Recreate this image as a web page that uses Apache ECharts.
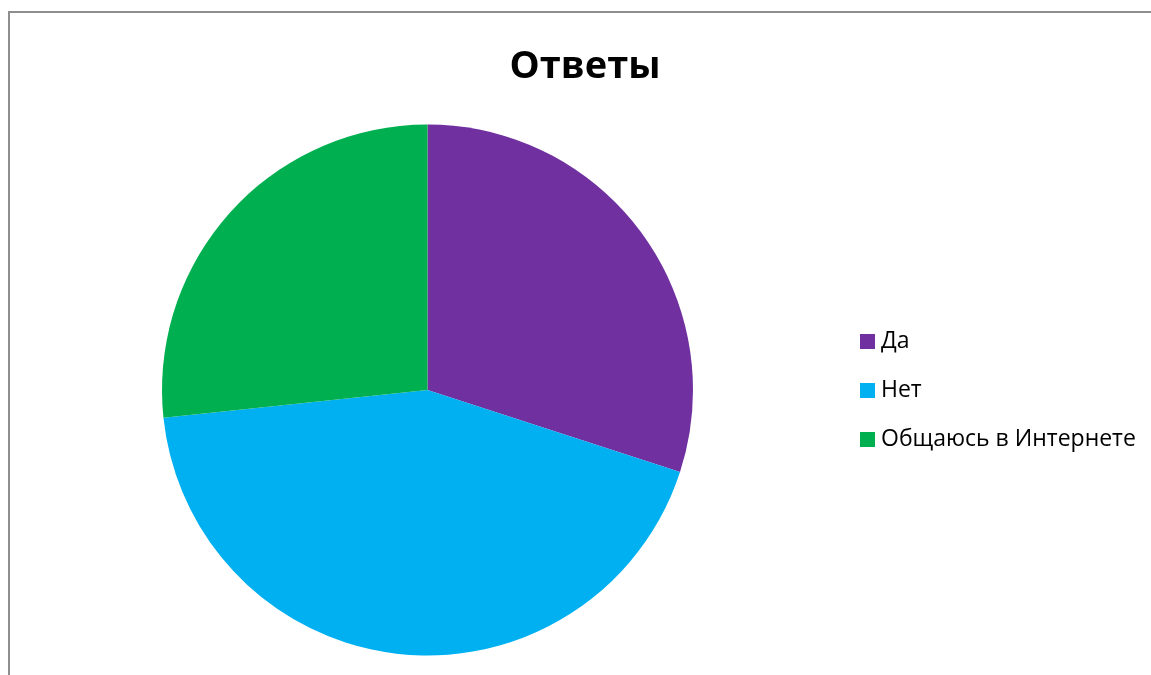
<!DOCTYPE html>
<html><head><meta charset="utf-8">
<script src="https://cdn.jsdelivr.net/npm/echarts@6/dist/echarts.min.js"></script>
<style>
html,body{margin:0;padding:0;background:#fff;}
#frame{position:absolute;left:8px;top:11px;width:1143px;height:664px;border-left:2px solid #8e8e8e;border-top:2px solid #8e8e8e;box-sizing:border-box;}
#c{position:absolute;left:0;top:0;width:1151px;height:675px;}
</style></head>
<body>
<div id="frame"></div>
<div id="c"></div>
<script>
const categories = ['Да', 'Нет', 'Общаюсь в Интернете'];
const values = [9, 13, 8];
const colors = ['#7030A0', '#00B0F0', '#00B050'];

const chart = echarts.init(document.getElementById('c'));
chart.setOption({
  animation: false,
  color: colors,
  title: {
    text: 'Ответы',
    left: 580, top: 43, textAlign: 'center',
    textStyle: {fontFamily: 'Open Sans', fontSize: 38, fontWeight: 'bold', color: '#000'}
  },
  legend: {
    orient: 'vertical',
    left: 855, top: 325,
    itemWidth: 15, itemHeight: 15, itemGap: 26,
    icon: 'rect',
    data: categories,
    textStyle: {fontFamily: 'Open Sans', fontSize: 23, color: '#000', padding: [0,0,0,1]}
  },
  series: [{
    type: 'pie',
    center: [427.5, 390],
    radius: 265.5,
    startAngle: 90,
    clockwise: true,
    label: {show: false},
    labelLine: {show: false},
    emphasis: {disabled: true},
    data: categories.map((n, i) => ({name: n, value: values[i]}))
  }]
});
</script>
</body></html>
